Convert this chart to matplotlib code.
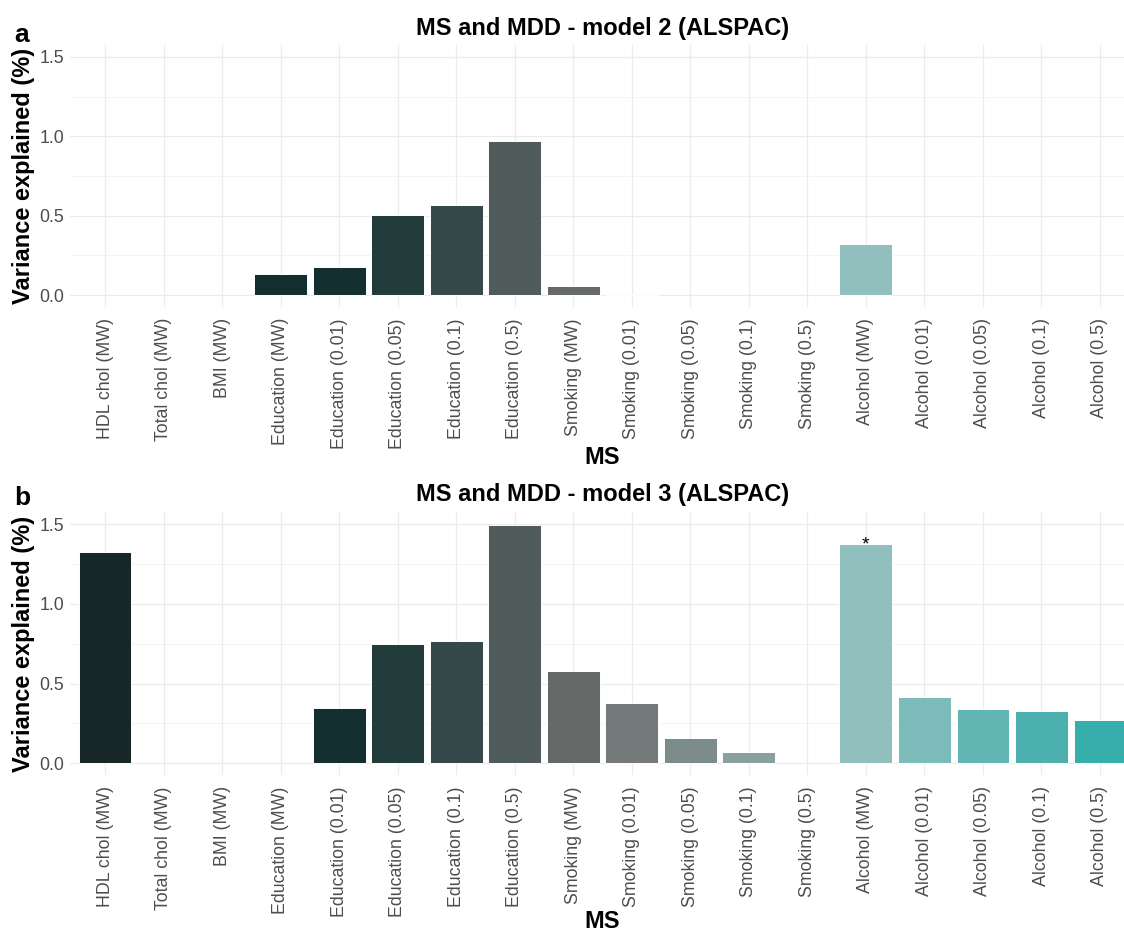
import matplotlib
matplotlib.use("Agg")
import matplotlib.pyplot as plt
import numpy as np

plt.rcParams['font.family'] = ['Liberation Sans', 'DejaVu Sans']

categories = ["HDL chol (MW)", "Total chol (MW)", "BMI (MW)", "Education (MW)",
              "Education (0.01)", "Education (0.05)", "Education (0.1)", "Education (0.5)",
              "Smoking (MW)", "Smoking (0.01)", "Smoking (0.05)", "Smoking (0.1)", "Smoking (0.5)",
              "Alcohol (MW)", "Alcohol (0.01)", "Alcohol (0.05)", "Alcohol (0.1)", "Alcohol (0.5)"]

model2_values = [0, 0, 0, 0.134, 0.176, 0.505, 0.567, 0.968,
                 0.060, 0.010, 0, 0, 0,
                 0.323, 0, 0, 0, 0]

model3_values = [1.325, 0, 0, 0, 0.345, 0.747, 0.768, 1.497,
                 0.581, 0.377, 0.161, 0.069, 0,
                 1.377, 0.418, 0.343, 0.326, 0.270]

model3_significant = ["Alcohol (MW)"]

bar_colors = ["#172727", "#152a2a", "#142c2c", "#132e2f", "#132f30", "#223c3c",
              "#36494a", "#505c5b", "#656968", "#747a79", "#7b8c8b", "#89a09e",
              "#8db0ae", "#90bfbd", "#7bbbb9", "#61b5b3", "#4bb0ae", "#36aeac"]

W, H = 1124, 934
fig = plt.figure(figsize=(W / 100, H / 100), dpi=100)

panels = [
    dict(values=model2_values, title="MS and MDD - model 2 (ALSPAC)", letter="a",
         top=45, bottom=307, title_y=28, letter_base=42, xlabel_y=458, sig=[]),
    dict(values=model3_values, title="MS and MDD - model 3 (ALSPAC)", letter="b",
         top=512.4, bottom=775.2, title_y=494, letter_base=505, xlabel_y=922,
         sig=model3_significant),
]

left_px, right_px = 70, 1135
x = np.arange(len(categories))

for p in panels:
    ax = fig.add_axes([left_px / W, 1 - p['bottom'] / H,
                       (right_px - left_px) / W, (p['bottom'] - p['top']) / H])
    vals = np.array(p['values'])
    edges = ['white' if v > 0 else 'none' for v in vals]
    ax.bar(x, vals, width=0.9, color=bar_colors, edgecolor=edges, linewidth=0.7, zorder=3)
    ax.set_xlim(-0.6, len(categories) - 0.4)
    ax.set_ylim(-0.075, 1.575)
    ax.set_yticks([0, 0.5, 1.0, 1.5])
    ax.set_yticklabels(["0.0", "0.5", "1.0", "1.5"])
    ax.set_yticks([0.25, 0.75, 1.25], minor=True)
    ax.set_xticks(x)
    ax.set_xticklabels(categories, rotation=90)
    ax.grid(True, which='major', color='#ebebeb', linewidth=0.9, zorder=0)
    ax.grid(True, which='minor', axis='y', color='#f2f2f2', linewidth=0.6, zorder=0)
    ax.set_axisbelow(True)
    for s in ax.spines.values():
        s.set_visible(False)
    ax.tick_params(axis='both', which='both', length=0, labelsize=12.8, labelcolor='#4d4d4d')
    ax.tick_params(axis='x', pad=8)
    ax.tick_params(axis='y', pad=4)
    for name in p['sig']:
        i = categories.index(name)
        ax.annotate("*", (x[i], vals[i]), xytext=(0, -7), textcoords='offset points',
                    ha='center', va='bottom', fontsize=14, color='black', zorder=4)

    cx = (left_px + right_px) / 2 / W
    fig.text(cx, 1 - p['title_y'] / H, p['title'], ha='center', va='center',
             fontsize=17, fontweight='bold')
    fig.text(14 / W, 1 - p['letter_base'] / H, p['letter'], ha='left', va='baseline',
             fontsize=19, fontweight='bold')
    fig.text(24 / W, 1 - (p['top'] + p['bottom']) / 2 / H, "Variance explained (%)",
             rotation=90, ha='center', va='center', fontsize=17, fontweight='bold')
    fig.text(cx, 1 - p['xlabel_y'] / H, "MS", ha='center', va='center',
             fontsize=17, fontweight='bold')

fig.savefig("out.png", dpi=100)
